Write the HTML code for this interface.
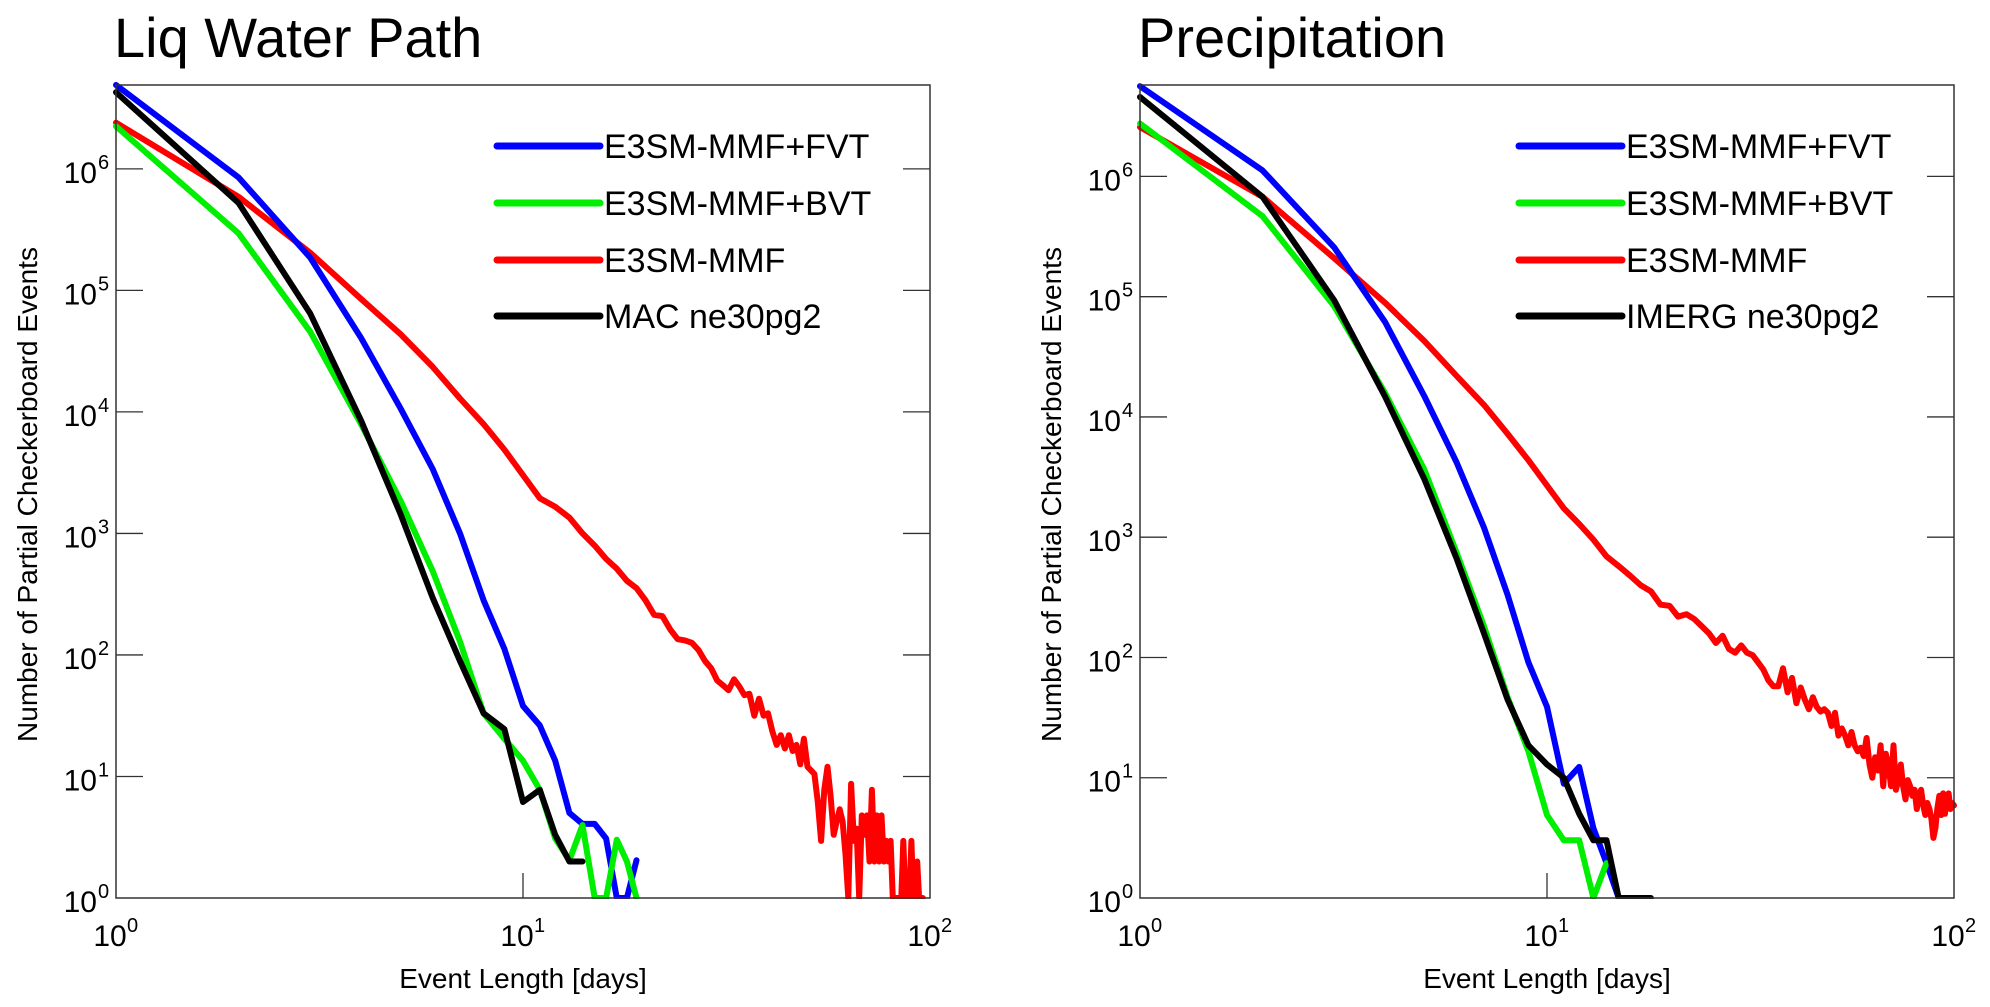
<!DOCTYPE html>
<html><head><meta charset="utf-8">
<style>
html,body{margin:0;padding:0;background:#fff;}
svg{display:block;font-family:"Liberation Sans",Arial,sans-serif;}
</style></head>
<body>
<svg id="chart" width="1990" height="1007" viewBox="0 0 1990 1007" xmlns="http://www.w3.org/2000/svg"></svg>
<script>
// ---- data (log10 of event counts, by event length in days starting at 1) ----
const yTickExps = [0,1,2,3,4,5,6];
const xTickExps = [0,1,2];
const lwpFVT = [6.69,5.93,5.27,4.61,4.03,3.53,3.0,2.45,2.05,1.58,1.42,1.13,0.70,0.61,0.61,0.49,0,0,0.31];
const lwpBVT = [6.35,5.47,4.66,3.90,3.27,2.69,2.11,1.52,1.31,1.13,0.89,0.49,0.31,0.60,0,0,0.48,0.30,0];
const lwpMMF = [6.38,5.77,5.31,4.93,4.64,4.37,4.11,3.90,3.69,3.48,3.29,3.22,3.13,3.0,2.90,2.79,2.71,2.61,2.55,2.45,2.33,2.32,2.21,2.13,2.12,2.10,2.04,1.95,1.89,1.79,1.75,1.71,1.80,1.74,1.67,1.68,1.50,1.64,1.50,1.52,1.37,1.26,1.34,1.23,1.34,1.21,1.26,1.10,1.31,1.08,1.05,1.02,0.79,0.47,0.89,1.08,0.84,0.52,0.63,0.73,0.63,0.36,0,0.94,0.47,0.57,0,0.68,0.52,0.68,0.30,0.89,0.30,0.68,0.30,0.68,0.30,0.47,0.30,0.47,0,0,0,0,0,0.47,0,0,0,0.47,0,0,0.30,0,0,0];
const lwpOBS = [6.63,5.72,4.81,3.93,3.16,2.47,1.95,1.52,1.39,0.79,0.89,0.52,0.30,0.30];
const prFVT = [6.75,6.05,5.41,4.79,4.17,3.62,3.08,2.52,1.96,1.59,0.95,1.09,0.58,0.29,0,0];
const prBVT = [6.44,5.67,4.92,4.20,3.56,2.87,2.26,1.67,1.22,0.69,0.48,0.48,0,0.29];
const prMMF = [6.41,5.83,5.32,4.95,4.63,4.34,4.10,3.86,3.64,3.43,3.24,3.11,2.98,2.84,2.76,2.68,2.60,2.55,2.44,2.43,2.34,2.36,2.32,2.26,2.20,2.12,2.18,2.07,2.04,2.10,2.04,2.02,1.96,1.90,1.81,1.76,1.76,1.91,1.71,1.83,1.62,1.75,1.65,1.57,1.67,1.59,1.55,1.57,1.54,1.43,1.54,1.35,1.41,1.35,1.27,1.38,1.27,1.22,1.25,1.18,1.33,1.11,1.0,1.17,1.06,1.27,0.93,1.20,1.11,0.93,1.27,0.90,0.98,1.11,0.93,0.82,0.98,0.93,0.85,0.90,0.74,0.85,0.90,0.77,0.69,0.79,0.74,0.66,0.50,0.58,0.74,0.85,0.69,0.87,0.70,0.82,0.87,0.74,0.79,0.77];
const prOBS = [6.66,5.83,4.97,4.17,3.48,2.82,2.20,1.65,1.27,1.11,1.0,0.70,0.48,0.48,0,0,0,0];
const lwpNames = ["E3SM-MMF+FVT","E3SM-MMF+BVT","E3SM-MMF","MAC ne30pg2"];
const prNames = ["E3SM-MMF+FVT","E3SM-MMF+BVT","E3SM-MMF","IMERG ne30pg2"];

const NS="http://www.w3.org/2000/svg";
const svg=document.getElementById('chart');
function mk(tag,attrs,parent){const e=document.createElementNS(NS,tag);for(const k in attrs)e.setAttribute(k,attrs[k]);(parent||svg).appendChild(e);return e;}

const colors=["#0000ff","#00ee00","#ff0000","#000000"];

function panel(key,title,left,top,w,h,yTop,series,names,legX){
  const g=mk('g',{});
  
  
  const bottom=top+h;
  const xs=d=>left+w*Math.log10(d)/2;
  const ys=e=>bottom-h*e/yTop;
  const t=mk('text',{x:left-2,y:57,'font-size':56},g);t.textContent=title;
  
  
  const order=[2,0,1,3];
  order.forEach(i=>{
    const arr=series[i];
    const pts=arr.map((v,j)=>xs(j+1).toFixed(1)+','+ys(v).toFixed(1)).join(' ');
    const p=mk('polyline',{points:pts,fill:'none',stroke:colors[i],'stroke-width':6,'stroke-linejoin':'round','stroke-linecap':'round'},g);
    
    
  });
  mk('rect',{x:left-60,y:bottom+1,width:w+120,height:8,fill:'#fff'},g);
  const fr=mk('rect',{x:left,y:top,width:w,height:h,fill:'none',stroke:'#333','stroke-width':1.5},g);
  
  
  yTickExps.forEach(e=>{
    const y=ys(e);
    if(e>0){
      mk('line',{x1:left,x2:left+27,y1:y,y2:y,stroke:'#333','stroke-width':1.3},g);
      mk('line',{x1:left+w-27,x2:left+w,y1:y,y2:y,stroke:'#333','stroke-width':1.3},g);
    }
    const lb=mk('text',{x:left-19,y:y+14,'font-size':30,'text-anchor':'end'},g);
    lb.textContent='10';
    
    
    const sp=mk('text',{x:left-18,y:y,'font-size':20},g);sp.textContent=String(e);
  });
  xTickExps.forEach(e=>{
    const x=xs(Math.pow(10,e));
    if(e===1){mk('line',{x1:x,x2:x,y1:bottom-25,y2:bottom,stroke:'#333','stroke-width':1.3},g);}
    const lb=mk('text',{x:x-6,y:bottom+48,'font-size':30,'text-anchor':'middle'},g);
    lb.textContent='10';
    
    
    const sp=mk('text',{x:x+11,y:bottom+34,'font-size':20},g);sp.textContent=String(e);
  });
  const xt=mk('text',{x:left+w/2,y:988,'font-size':28,'text-anchor':'middle'},g);
  xt.textContent='Event Length [days]';
  
  
  const yt=mk('text',{x:0,y:0,'font-size':28,'text-anchor':'middle',transform:`translate(${left-79},${top+h/2+3}) rotate(-90)`},g);
  yt.textContent='Number of Partial Checkerboard Events';
  
  
  const lg=mk('g',{},g);
  
  
  const rowsY=[146,203,260,316];
  names.forEach((n,i)=>{
    const ln=mk('line',{x1:legX,x2:legX+103,y1:rowsY[i],y2:rowsY[i],stroke:colors[i],'stroke-width':7,'stroke-linecap':'round'},lg);
    
    
    const tx=mk('text',{x:legX+107,y:rowsY[i]+12,'font-size':34},lg);
    tx.textContent=n;
    
    
  });
}
panel('lwp','Liq Water Path',116,85,814,813,6.69,[lwpFVT,lwpBVT,lwpMMF,lwpOBS],lwpNames,497);
panel('precip','Precipitation',1140,85,814,813,6.76,[prFVT,prBVT,prMMF,prOBS],prNames,1519);
</script>
</body></html>
